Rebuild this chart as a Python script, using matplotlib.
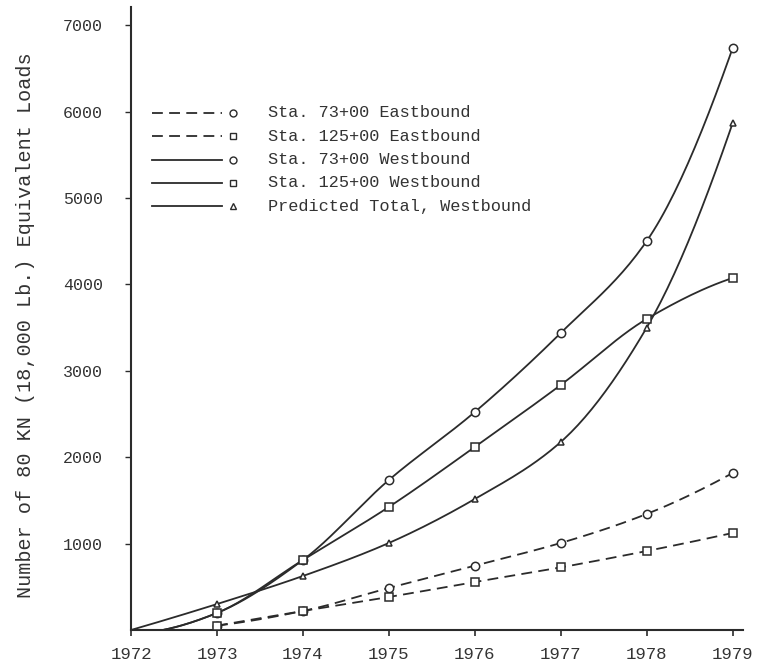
import numpy as np
import matplotlib
matplotlib.use("Agg")
import matplotlib.pyplot as plt

# values
years = [1973, 1974, 1975, 1976, 1977, 1978, 1979]
sta73_east = [50, 220, 486, 745, 1007, 1343, 1817]
sta125_east = [50, 220, 382, 556, 725, 914, 1123]

wb_years = [1972.37, 1973, 1974, 1975, 1976, 1977, 1978, 1979]
sta73_west = [0, 197, 810, 1736, 2523, 3438, 4502, 6736]
sta125_west = [0, 197, 810, 1424, 2118, 2836, 3600, 4074]

pred_years = [1972, 1973, 1974, 1975, 1976, 1977, 1978, 1979]
pred_west = [0, 300, 625, 1007, 1516, 2176, 3500, 5868]

x_ticks = [1972, 1973, 1974, 1975, 1976, 1977, 1978, 1979]
y_ticks = [1000, 2000, 3000, 4000, 5000, 6000, 7000]

legend_labels = ["Sta. 73+00 Eastbound", "Sta. 125+00 Eastbound",
                 "Sta. 73+00 Westbound", "Sta. 125+00 Westbound",
                 "Predicted Total, Westbound"]

INK = "#2b2b2b"
MONO = "Liberation Mono"


def smooth(x, y, n=25):
    # hand-drawn look: monotone cubic (pchip style) through the points
    x = np.asarray(x, float)
    y = np.asarray(y, float)
    h = np.diff(x)
    d = np.diff(y) / h
    m = np.zeros_like(y)
    for k in range(1, len(x) - 1):
        if d[k - 1] * d[k] > 0:
            w1 = 2 * h[k] + h[k - 1]
            w2 = h[k] + 2 * h[k - 1]
            m[k] = (w1 + w2) / (w1 / d[k - 1] + w2 / d[k])
    m[0] = ((2 * h[0] + h[1]) * d[0] - h[0] * d[1]) / (h[0] + h[1])
    m[-1] = ((2 * h[-1] + h[-2]) * d[-1] - h[-1] * d[-2]) / (h[-1] + h[-2])
    if m[0] * d[0] < 0:
        m[0] = 0
    if m[-1] * d[-1] < 0:
        m[-1] = 0
    xs, ys = [], []
    for i in range(len(x) - 1):
        t = np.linspace(0, 1, n, endpoint=False)
        h00 = 2 * t**3 - 3 * t**2 + 1
        h10 = t**3 - 2 * t**2 + t
        h01 = -2 * t**3 + 3 * t**2
        h11 = t**3 - t**2
        xs.append(x[i] + t * h[i])
        ys.append(h00 * y[i] + h10 * h[i] * m[i] + h01 * y[i + 1] + h11 * h[i] * m[i + 1])
    xs.append([x[-1]])
    ys.append([y[-1]])
    return np.concatenate(xs), np.concatenate(ys)


fig = plt.figure(figsize=(7.65, 6.71), dpi=100)
ax = fig.add_axes([131 / 765, 41 / 671, 612 / 765, 623 / 671])

dash = (6, 3.5)
LW = 1.3
mk = dict(mfc="white", mec=INK, mew=1.1, ms=6, ls="none", zorder=3)

sx, sy = smooth(years, sta73_east)
ax.plot(sx, sy, color=INK, lw=LW, dashes=dash)
ax.plot(years, sta73_east, marker="o", **mk)

sx, sy = smooth(years, sta125_east)
ax.plot(sx, sy, color=INK, lw=LW, dashes=dash)
ax.plot(years, sta125_east, marker="s", **dict(mk, ms=5.5))

sx, sy = smooth(wb_years, sta73_west)
ax.plot(sx, sy, color=INK, lw=LW)
ax.plot(wb_years[1:], sta73_west[1:], marker="o", **mk)

sx, sy = smooth(wb_years, sta125_west)
ax.plot(sx, sy, color=INK, lw=LW)
ax.plot(wb_years[1:], sta125_west[1:], marker="s", **dict(mk, ms=5.5))

sx, sy = smooth(pred_years, pred_west)
ax.plot(sx, sy, color=INK, lw=LW)
ax.plot(pred_years[1:], pred_west[1:], marker="^", **dict(mk, ms=5))

ax.set_xlim(1972, 1979.12)
ax.set_ylim(0, 7210)
ax.set_xticks(x_ticks)
ax.set_yticks(y_ticks)
ax.set_xticklabels([str(v) for v in x_ticks], family=MONO, fontsize=12.5)
ax.set_yticklabels([str(v) for v in y_ticks], family=MONO, fontsize=12)
ax.tick_params(axis="x", direction="out", length=4, width=1.2, color=INK, pad=8, labelcolor="#333")
ax.tick_params(axis="y", direction="out", length=4, width=1.0, color=INK, pad=16, labelcolor="#333")

for s in ["top", "right"]:
    ax.spines[s].set_visible(False)
for s in ["left", "bottom"]:
    ax.spines[s].set_color(INK)
    ax.spines[s].set_linewidth(1.5)

fig.text(26 / 765, 1 - 325 / 671, "Number of 80 KN (18,000 Lb.) Equivalent Loads",
         rotation=90, ha="center", va="center", family=MONO, fontsize=14.5, color="#333")

# legend drawn by hand: line, then marker, then text
styles = [(dash, "o"), (dash, "s"), (None, "o"), (None, "s"), (None, "^")]
for i, (lab, (ds, m)) in enumerate(zip(legend_labels, styles)):
    yy = (630 - (113 + 23.3 * i)) / 623
    kw = dict(dashes=ds) if ds else {}
    ax.plot([0.034, 0.149], [yy, yy], transform=ax.transAxes, color=INK, lw=LW, **kw)
    ax.plot([0.167], [yy], transform=ax.transAxes, marker=m, mfc="white", mec=INK,
            mew=1.0, ms=5, ls="none")
    ax.text(0.224, yy, lab, transform=ax.transAxes, ha="left", va="center",
            family=MONO, fontsize=12.2, color="#333")

fig.savefig("out.png", dpi=100, facecolor="white")
